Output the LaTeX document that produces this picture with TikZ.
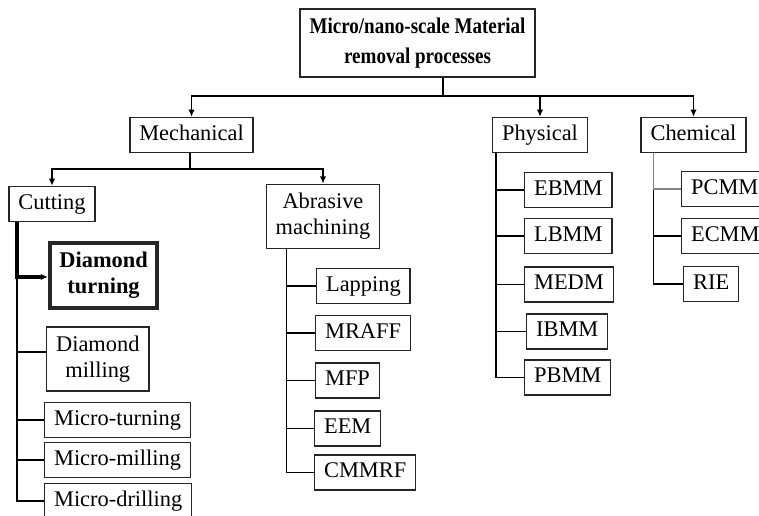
\documentclass[tikz,border=0pt]{standalone}
\usepackage{fontspec}
\setmainfont{Liberation Serif}
\newfontfamily\rootfont[FakeStretch=0.85]{Liberation Serif}
\usetikzlibrary{arrows.meta,positioning}
\definecolor{LinkGray}{RGB}{130,130,130}
\tikzset{
  box/.style={draw=black!85,line width=0.7pt,inner xsep=4.7pt,inner ysep=3pt,
              minimum height=17.5pt,text height=7.7pt,text depth=2.4pt,
              font=\fontsize{11.2}{13}\selectfont},
  twobox/.style={draw=black!85,line width=0.7pt,align=center,inner xsep=4.7pt,
                 inner ysep=4.5pt,font=\fontsize{11.2}{13}\selectfont},
  rootbox/.style={twobox,minimum width=114.5pt,minimum height=31pt,
                  font=\rootfont\fontsize{11.2}{15}\selectfont\bfseries},
  keybox/.style={twobox,line width=2pt,font=\fontsize{11.2}{13}\selectfont\bfseries},
  feed/.style={-{Latex[length=3.6pt,width=3.2pt]},line width=0.8pt},
  branch/.style={line width=0.8pt},
  keylink/.style={-{Latex[length=3.6pt,width=3.2pt]},line width=1.8pt},
  graylink/.style={branch,LinkGray},
}
\begin{document}
\begin{tikzpicture}[x=0.5pt,y=-0.5pt]
  \useasboundingbox (0,0) rectangle (759,515);
  % top level
  \node[rootbox] (root) at (417.5,43) {Micro/nano-scale Material\\removal processes};
  \node[box] (mech) at (191.5,135) {Mechanical};
  \node[box] (phys) at (540,135) {Physical};
  \node[box] (chem) at (693.5,135) {Chemical};
  \coordinate (rj) at (443,96);
  \draw[branch] (root.south -| rj) -- (rj);
  \draw[feed] (rj) -| (mech);
  \draw[feed] (rj) -| (phys);
  \draw[feed] (rj) -| (chem);
  % mechanical
  \node[box] (cut) at (52,204) {Cutting};
  \node[twobox] (abr) at (323,216.5) {Abrasive\\machining};
  \coordinate (mj) at (190,169);
  \draw[branch] (mech.south -| mj) -- (mj);
  \draw[feed] (mj) -| (cut);
  \draw[feed] (mj) -| (abr);
  % cutting
  \node[keybox,anchor=west] (dt) at (48,275.5) {Diamond\\turning};
  \node[twobox,anchor=west] (dm) at (46,359) {Diamond\\milling};
  \node[box,anchor=west] (mt) at (44,420) {Micro-turning};
  \node[box,anchor=west] (mm) at (44,460) {Micro-milling};
  \node[box,anchor=west] (md) at (44,501) {Micro-drilling};
  \draw[branch] ([xshift=4.5pt]cut.south west) |- ([yshift=3.5pt]dm.west);
  \foreach \c in {mt,mm,md}
    \draw[branch] ([xshift=4.5pt]cut.south west) |- (\c.west);
  \draw[keylink] ([xshift=4.5pt]cut.south west) |- ([yshift=-0.7pt]dt.west);
  % abrasive machining
  \node[box,anchor=west] (lap) at (316,286) {Lapping};
  \node[box,anchor=west] (mraff) at (315,333) {MRAFF};
  \node[box,anchor=west] (mfp) at (315,380.5) {MFP};
  \node[box,anchor=west] (eem) at (314,428.5) {EEM};
  \node[box,anchor=west] (cmmrf) at (314,472.5) {CMMRF};
  \foreach \c in {lap,mraff,mfp,eem,cmmrf}
    \draw[branch] ([xshift=10.5pt]abr.south west) |- (\c.west);
  % physical
  \node[box,anchor=west] (ebmm) at (524,190) {EBMM};
  \node[box,anchor=west] (lbmm) at (524,236) {LBMM};
  \node[box,anchor=west] (medm) at (524,284.5) {MEDM};
  \node[box,anchor=west] (ibmm) at (526,331.5) {IBMM};
  \node[box,anchor=west] (pbmm) at (524,377.5) {PBMM};
  \foreach \c in {ebmm,lbmm,medm,ibmm,pbmm}
    \draw[branch] ([xshift=2pt]phys.south west) |- (\c.west);
  % chemical
  \node[box,anchor=west] (pcmm) at (681,189) {PCMM};
  \node[box,anchor=west] (ecmm) at (681,236) {ECMM};
  \node[box,anchor=west] (rie) at (683,284) {RIE};
  \foreach \c in {ecmm,rie}
    \draw[branch] ([xshift=6.5pt]chem.south west) |- (\c.west);
  \draw[graylink] ([xshift=6.5pt]chem.south west) |- (pcmm.west);
\end{tikzpicture}
\end{document}
